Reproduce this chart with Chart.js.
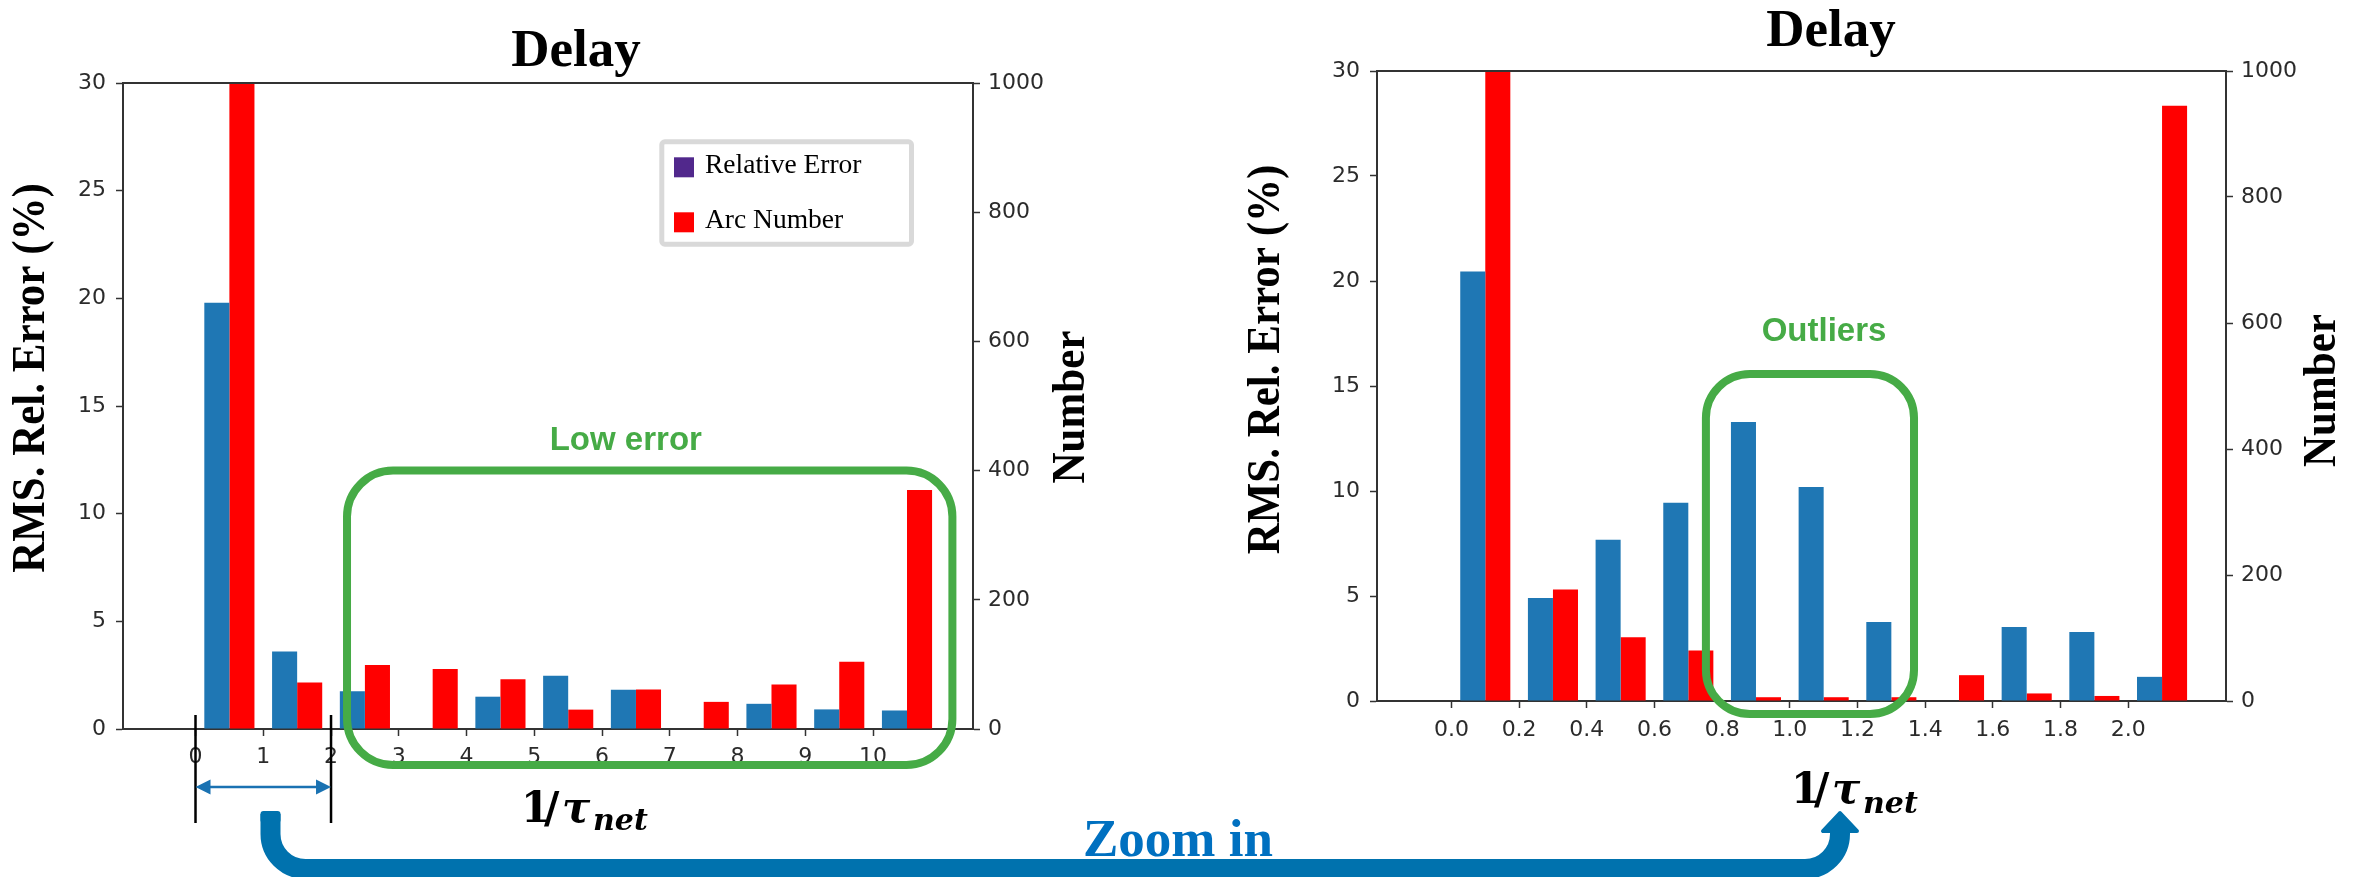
<!DOCTYPE html>
<html>
<head>
<meta charset="utf-8">
<script src="https://cdn.jsdelivr.net/npm/chart.js@4.4.1/dist/chart.umd.min.js"></script>
<style>
  html, body { margin: 0; padding: 0; background: #ffffff; }
  #wrap { position: relative; width: 2356px; height: 877px; overflow: hidden; }
  #wrap canvas { position: absolute; top: 0; }
  #fullChart { left: 0; }
  #zoomChart { left: 1150px; }
  #overlay { left: 0; pointer-events: none; }
</style>
</head>
<body>
<div id="wrap">
  <canvas id="fullChart" width="1150" height="877"></canvas>
  <canvas id="zoomChart" width="1206" height="877"></canvas>
  <canvas id="overlay" width="2356" height="877"></canvas>
</div>
<script>
// ---- data: full range of 1/tau_net (bins of width 1) ----
const fullBinCenters = [0.5, 1.5, 2.5, 3.5, 4.5, 5.5, 6.5, 7.5, 8.5, 9.5, 10.5];
const fullTickValues = [0, 1, 2, 3, 4, 5, 6, 7, 8, 9, 10];
const fullRelError   = [19.8, 3.6, 1.75, 0, 1.5, 2.47, 1.82, 0, 1.17, 0.91, 0.86];
const fullArcNumber  = [1000, 72, 99, 93, 77, 30, 61, 42, 69, 104, 370];

// ---- data: zoomed range 0..2.2 (bins of width 0.2) ----
const zoomBinCenters = [0.1, 0.3, 0.5, 0.7, 0.9, 1.1, 1.3, 1.5, 1.7, 1.9, 2.1];
const zoomTickValues = [0.0, 0.2, 0.4, 0.6, 0.8, 1.0, 1.2, 1.4, 1.6, 1.8, 2.0];
const zoomRelError   = [20.45, 4.91, 7.68, 9.44, 13.28, 10.19, 3.76, 0, 3.52, 3.28, 1.15];
const zoomArcNumber  = [1000, 177, 101, 80, 6, 6, 6, 41, 12, 8, 945];

const seriesLabels   = ['Relative Error', 'Arc Number'];
const legendSwatches = ['#51288c', '#ff0000'];

// ---- styling ----
const BLUE = '#1f77b4';
const RED = '#ff0000';
const AXIS = '#333333';
const TICK_COLOR = '#2b2b2b';
const TICK_FONT = { family: '"DejaVu Sans"', size: 22 };
const GREEN = '#46ab46';
const SERIF = '"Liberation Serif", "Times New Roman", serif';
const MATH = '"DejaVu Serif", serif';

function rotatedLabel(ctx, text, x, y) {
  ctx.save();
  ctx.translate(x, y);
  ctx.rotate(-Math.PI / 2);
  ctx.scale(1, 1.08);
  ctx.font = 'bold 43px ' + SERIF;
  ctx.fillStyle = '#000';
  ctx.textAlign = 'center';
  ctx.textBaseline = 'alphabetic';
  ctx.fillText(text, 0, 0);
  ctx.restore();
}

function tauLabel(ctx, x, y, subDy) {
  ctx.save();
  ctx.fillStyle = '#000';
  ctx.textBaseline = 'alphabetic';
  ctx.textAlign = 'left';
  ctx.font = 'bold 42px ' + MATH;
  ctx.fillText('1', x, y);
  ctx.fillText('/', x + 23, y);
  ctx.font = 'italic bold 42px ' + MATH;
  ctx.fillText('\u03C4', x + 41, y);
  ctx.font = 'italic bold 30px ' + MATH;
  ctx.fillText('net', x + 72, y + subDy);
  ctx.restore();
}

function roundRect(ctx, x0, y0, x1, y1, r) {
  ctx.beginPath();
  ctx.moveTo(x0 + r, y0);
  ctx.arcTo(x1, y0, x1, y1, r);
  ctx.arcTo(x1, y1, x0, y1, r);
  ctx.arcTo(x0, y1, x0, y0, r);
  ctx.arcTo(x0, y0, x1, y0, r);
  ctx.closePath();
}

// Per-chart decorations: frame top, title, axis titles, legend, callouts
function makeDecor(spec) {
  return {
    id: 'decor',
    afterDraw(chart) {
      const ctx = chart.ctx;
      const a = chart.chartArea;
      const xs = chart.scales.x, ys = chart.scales.y;

      // top spine
      ctx.save();
      ctx.strokeStyle = AXIS;
      ctx.lineWidth = 2;
      ctx.beginPath();
      ctx.moveTo(a.left, a.top);
      ctx.lineTo(a.right, a.top);
      ctx.stroke();
      ctx.restore();

      // title
      ctx.save();
      ctx.font = 'bold 53px ' + SERIF;
      ctx.fillStyle = '#000';
      ctx.textAlign = 'center';
      ctx.textBaseline = 'alphabetic';
      ctx.fillText('Delay', spec.title.x, spec.title.y);
      ctx.restore();

      rotatedLabel(ctx, 'RMS. Rel. Error (%)', spec.yTitle.x, spec.yTitle.y);
      rotatedLabel(ctx, 'Number', spec.y1Title.x, spec.y1Title.y);
      tauLabel(ctx, spec.xTitle.x, spec.xTitle.y, spec.xTitle.subDy);

      // legend
      if (spec.legend) {
        const L = spec.legend;
        ctx.save();
        ctx.fillStyle = '#fff';
        roundRect(ctx, L.left, L.top, L.right, L.bottom, 3);
        ctx.fill();
        ctx.lineWidth = 5;
        ctx.strokeStyle = '#d9d9d9';
        ctx.stroke();
        ctx.font = '27.5px ' + SERIF;
        ctx.textBaseline = 'alphabetic';
        ctx.textAlign = 'left';
        chart.data.datasets.forEach((ds, i) => {
          const base = L.firstBaseline + i * L.rowGap;
          ctx.fillStyle = legendSwatches[i];
          ctx.fillRect(L.swatchX, base - 16, 20, 20);
          ctx.fillStyle = '#000';
          ctx.fillText(ds.label, L.textX, base);
        });
        ctx.restore();
      }

      // green callout box
      if (spec.box) {
        const B = spec.box;
        const x0 = xs.getPixelForValue(B.x0), x1 = xs.getPixelForValue(B.x1);
        const y0 = ys.getPixelForValue(B.yTop), y1 = a.bottom + B.bottomOffset;
        ctx.save();
        ctx.strokeStyle = GREEN;
        ctx.lineWidth = 8;
        roundRect(ctx, x0, y0, x1, y1, B.r);
        ctx.stroke();
        ctx.fillStyle = GREEN;
        ctx.font = 'bold 33px "Liberation Sans", Arial, sans-serif';
        ctx.textAlign = 'center';
        ctx.textBaseline = 'alphabetic';
        ctx.fillText(B.text, xs.getPixelForValue(B.textX), y0 - B.textDy);
        ctx.restore();
      }

      // bracket marking the zoomed interval
      if (spec.bracket) {
        const K = spec.bracket;
        const xa = xs.getPixelForValue(K.from), xb = xs.getPixelForValue(K.to);
        ctx.save();
        ctx.strokeStyle = '#000';
        ctx.lineWidth = 2.5;
        ctx.beginPath();
        [xa, xb].forEach(px => {
          ctx.moveTo(px, a.bottom + K.top);
          ctx.lineTo(px, a.bottom + K.bottom);
        });
        ctx.stroke();
        const ay = a.bottom + K.arrow;
        ctx.strokeStyle = '#1a72b2';
        ctx.fillStyle = '#1a72b2';
        ctx.lineWidth = 2.5;
        ctx.beginPath();
        ctx.moveTo(xa + 10, ay);
        ctx.lineTo(xb - 10, ay);
        ctx.stroke();
        ctx.beginPath();
        ctx.moveTo(xa, ay); ctx.lineTo(xa + 15, ay - 7.5); ctx.lineTo(xa + 15, ay + 7.5); ctx.closePath();
        ctx.moveTo(xb, ay); ctx.lineTo(xb - 15, ay - 7.5); ctx.lineTo(xb - 15, ay + 7.5); ctx.closePath();
        ctx.fill();
        ctx.restore();
      }
    }
  };
}

function buildChart(canvas, cfg) {
  const tickCommon = { font: TICK_FONT, color: TICK_COLOR };
  const gridCommon = { offset: false, drawOnChartArea: false, drawTicks: true, tickLength: 7, tickColor: AXIS, tickWidth: 1.5 };
  const borderCommon = { display: true, color: AXIS, width: 2 };
  return new Chart(canvas, {
    type: 'bar',
    data: {
      datasets: [
        {
          label: seriesLabels[0],
          data: cfg.centers.map((x, i) => ({ x: x, y: cfg.error[i] })),
          backgroundColor: BLUE,
          yAxisID: 'y'
        },
        {
          label: seriesLabels[1],
          data: cfg.centers.map((x, i) => ({ x: x, y: cfg.arcs[i] })),
          backgroundColor: RED,
          yAxisID: 'y1'
        }
      ]
    },
    options: {
      responsive: false,
      animation: false,
      devicePixelRatio: 1,
      layout: { padding: { top: cfg.frame.top, left: 0, right: 0, bottom: 0 } },
      datasets: { bar: { categoryPercentage: 0.74, barPercentage: 1.0, borderWidth: 0 } },
      plugins: {
        legend: { display: false },
        tooltip: { enabled: false },
        title: { display: false }
      },
      scales: {
        x: {
          type: 'linear',
          offset: false,
          min: cfg.xMin,
          max: cfg.xMax,
          afterBuildTicks: s => { s.ticks = cfg.ticks.map(v => ({ value: v })); },
          afterFit: s => { s.height = cfg.frame.xHeight; },
          grid: gridCommon,
          border: borderCommon,
          ticks: Object.assign({ autoSkip: false, maxRotation: 0, padding: cfg.xPad, callback: cfg.tickFormat }, tickCommon)
        },
        y: {
          type: 'linear',
          position: 'left',
          min: 0,
          max: 30,
          afterFit: s => { s.width = cfg.frame.yWidth; },
          grid: gridCommon,
          border: borderCommon,
          ticks: Object.assign({ stepSize: 5, padding: 10, callback: v => String(v) }, tickCommon)
        },
        y1: {
          type: 'linear',
          position: 'right',
          min: 0,
          max: 1000,
          afterFit: s => { s.width = cfg.frame.y1Width; },
          grid: gridCommon,
          border: borderCommon,
          ticks: Object.assign({ stepSize: 200, padding: 8, callback: v => String(v) }, tickCommon)
        }
      }
    },
    plugins: [makeDecor(cfg.decor)]
  });
}

buildChart(document.getElementById('fullChart'), {
  centers: fullBinCenters,
  error: fullRelError,
  arcs: fullArcNumber,
  ticks: fullTickValues,
  tickFormat: v => String(v),
  xMin: -1.07,
  xMax: 11.474,
  xPad: 8,
  frame: { top: 83, xHeight: 148, yWidth: 123, y1Width: 177 },
  decor: {
    title: { x: 576, y: 66 },
    yTitle: { x: 44, y: 378 },
    y1Title: { x: 1084, y: 407 },
    xTitle: { x: 521, y: 822, subDy: 8 },
    legend: { left: 661.8, top: 141.8, right: 911.5, bottom: 244.2, swatchX: 674, textX: 705, firstBaseline: 173.3, rowGap: 55 },
    box: { x0: 2.236, x1: 11.17, yTop: 12, bottomOffset: 36, r: 46, text: 'Low error', textX: 6.35, textDy: 21 },
    bracket: { from: 0, to: 2, top: -14, bottom: 94, arrow: 58 }
  }
});

buildChart(document.getElementById('zoomChart'), {
  centers: zoomBinCenters,
  error: zoomRelError,
  arcs: zoomArcNumber,
  ticks: zoomTickValues,
  tickFormat: v => v.toFixed(1),
  xMin: -0.22,
  xMax: 2.289,
  xPad: 9,
  frame: { top: 71, xHeight: 176, yWidth: 227, y1Width: 130 },
  decor: {
    title: { x: 681, y: 46 },
    yTitle: { x: 129, y: 359.5 },
    y1Title: { x: 1185, y: 390.5 },
    xTitle: { x: 641, y: 803, subDy: 10 },
    box: { x0: 0.752, x1: 1.367, yTop: 15.57, bottomOffset: 13, r: 44, text: 'Outliers', textX: 1.101, textDy: 33 }
  }
});

// ---- "Zoom in" connector spanning both panels ----
(function drawConnector() {
  const ctx = document.getElementById('overlay').getContext('2d');
  const x0 = 270.5, yStart = 811, yRun = 869, x1 = 1840, r = 35;
  ctx.save();
  ctx.strokeStyle = '#0072ae';
  ctx.fillStyle = '#0072ae';
  ctx.lineWidth = 20;
  ctx.lineJoin = 'round';
  ctx.beginPath();
  ctx.moveTo(x0, yStart + 3);
  ctx.lineTo(x0, yRun - r);
  ctx.arcTo(x0, yRun, x0 + r, yRun, r);
  ctx.lineTo(x1 - r, yRun);
  ctx.arcTo(x1, yRun, x1, yRun - r, r);
  ctx.lineTo(x1, 830);
  ctx.stroke();
  // rounded start cap
  roundRect(ctx, x0 - 10, yStart, x0 + 10, yStart + 12, 3);
  ctx.fill();
  // arrow head
  ctx.lineWidth = 4;
  ctx.beginPath();
  ctx.moveTo(x1 - 17, 831);
  ctx.lineTo(x1 + 17, 831);
  ctx.lineTo(x1, 813);
  ctx.closePath();
  ctx.fill();
  ctx.stroke();

  ctx.font = 'bold 53px ' + SERIF;
  ctx.fillStyle = '#0070c0';
  ctx.textAlign = 'left';
  ctx.textBaseline = 'alphabetic';
  ctx.fillText('Zoom in', 1083, 856);
  ctx.restore();
})();
</script>
</body>
</html>
